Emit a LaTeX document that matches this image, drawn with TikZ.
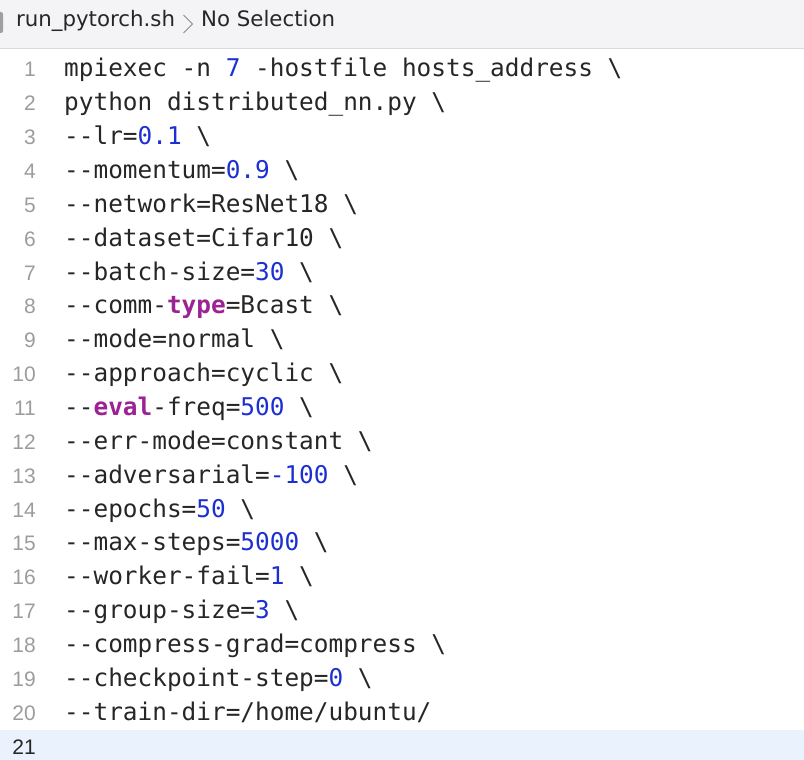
\documentclass[tikz,border=0pt]{standalone}
\usepackage{fontspec}
\setmonofont{DejaVu Sans Mono}
\newfontfamily\gutterfont{Liberation Sans}
\newfontfamily\barfont{DejaVu Sans}

\definecolor{codeblack}{HTML}{262626}
\definecolor{numblue}{HTML}{1C2FD0}
\definecolor{kwpurple}{HTML}{9B2393}
\definecolor{gutter}{HTML}{9C9C9C}
\definecolor{barbg}{HTML}{F4F4F6}
\definecolor{barline}{HTML}{DADADC}
\definecolor{curline}{HTML}{EAF2FE}

\newcommand{\nm}[1]{\textcolor{numblue}{#1}}
\newcommand{\kw}[1]{\textcolor{kwpurple}{\bfseries #1}}

\tikzset{
  codeline/.style={anchor=base west, inner sep=0pt, text=codeblack,
    font=\ttfamily\fontsize{24.4}{24.4}\selectfont},
  lineno/.style={anchor=base east, inner sep=0pt, text=gutter,
    font=\gutterfont\fontsize{21}{21}\selectfont},
  crumb/.style={anchor=base west, inner sep=0pt, text=codeblack,
    font=\barfont\fontsize{21.3}{21.3}\selectfont}
}

\begin{document}
\begin{tikzpicture}[x=1pt, y=-1pt]

  \clip (0,0) rectangle (804,760);

  % --- Title bar ---
  \fill[barbg] (0,0) rectangle (804,48);
  \draw[barline, line width=1.5pt] (0,48.5) -- (804,48.5);
  \fill[gray!75, rounded corners=2pt] (-6,12) rectangle (3,33);
  \node[crumb] (file) at (16,27) {run\_pytorch.sh};
  \draw[black!45, line width=1pt] (183.5,15) -- (192.5,24) -- (183.5,33);
  \node[crumb] (sel) at (201,27) {No Selection};

  % --- Current line ---
  \fill[curline] (0,730) rectangle (804,760);

  % --- Line numbers ---
  \foreach \k in {1,...,20}
    \node[lineno] (n\k) at (36,{77+(\k-1)*33.85}) {\k};
  \node[lineno, text=codeblack] (n21) at (36,{77+20*33.85}) {21};

  % --- Code ---
  \node[codeline] (l1) at (64,77) {mpiexec -n \nm{7} -hostfile hosts\_address \textbackslash};
  \node[codeline] (l2) at (64,110.85) {python distributed\_nn.py \textbackslash};
  \node[codeline] (l3) at (64,144.7) {--lr=\nm{0.1} \textbackslash};
  \node[codeline] (l4) at (64,178.55) {--momentum=\nm{0.9} \textbackslash};
  \node[codeline] (l5) at (64,212.4) {--network=ResNet18 \textbackslash};
  \node[codeline] (l6) at (64,246.25) {--dataset=Cifar10 \textbackslash};
  \node[codeline] (l7) at (64,280.1) {--batch-size=\nm{30} \textbackslash};
  \node[codeline] (l8) at (64,313.95) {--comm-\kw{type}=Bcast \textbackslash};
  \node[codeline] (l9) at (64,347.8) {--mode=normal \textbackslash};
  \node[codeline] (l10) at (64,381.65) {--approach=cyclic \textbackslash};
  \node[codeline] (l11) at (64,415.5) {--\kw{eval}-freq=\nm{500} \textbackslash};
  \node[codeline] (l12) at (64,449.35) {--err-mode=constant \textbackslash};
  \node[codeline] (l13) at (64,483.2) {--adversarial=\nm{-100} \textbackslash};
  \node[codeline] (l14) at (64,517.05) {--epochs=\nm{50} \textbackslash};
  \node[codeline] (l15) at (64,550.9) {--max-steps=\nm{5000} \textbackslash};
  \node[codeline] (l16) at (64,584.75) {--worker-fail=\nm{1} \textbackslash};
  \node[codeline] (l17) at (64,618.6) {--group-size=\nm{3} \textbackslash};
  \node[codeline] (l18) at (64,652.45) {--compress-grad=compress \textbackslash};
  \node[codeline] (l19) at (64,686.3) {--checkpoint-step=\nm{0} \textbackslash};
  \node[codeline] (l20) at (64,720.15) {--train-dir=/home/ubuntu/};

\end{tikzpicture}
\end{document}
